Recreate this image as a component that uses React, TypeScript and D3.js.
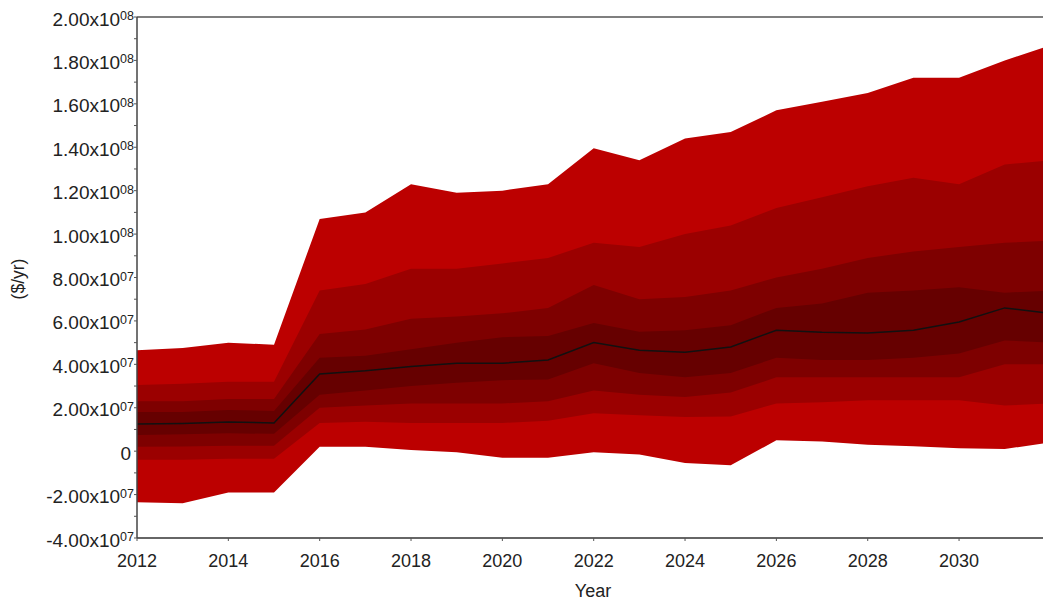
import * as d3 from 'd3';

// Fan chart data, values in $/yr (millions, scaled below)
const years = [2012, 2013, 2014, 2015, 2016, 2017, 2018, 2019, 2020, 2021, 2022, 2023, 2024, 2025, 2026, 2027, 2028, 2029, 2030, 2031, 2032];

const upper1 = [46.5, 47.5, 50, 49, 107, 110, 123, 119, 120, 123, 139.5, 134, 144, 147, 157, 161, 165, 172, 172, 180, 187];
const upper2 = [30.5, 31, 32, 32, 74, 77, 84, 84, 86.5, 89, 96, 94, 100, 104, 112, 117, 122, 126, 123, 132, 134];
const upper3 = [23, 23, 24, 24, 54, 56, 61, 62, 63.5, 66, 76.5, 70, 71, 74, 80, 84, 89, 92, 94, 96, 97];
const upper4 = [18, 18, 19, 18.5, 43, 44, 47, 50, 52.5, 53, 59, 55, 55.7, 58, 66, 68, 73, 74, 75.5, 73, 74];
const median = [12.5, 12.8, 13.4, 13, 35.5, 37, 39, 40.5, 40.5, 42, 50, 46.5, 45.6, 48, 55.7, 54.8, 54.4, 55.7, 59.5, 66, 63.5];
const lower4 = [7.5, 7.8, 8.2, 8, 26, 28, 30, 31.5, 32.7, 33, 40.5, 36, 34, 36, 43, 42, 42, 43, 45, 51, 50];
const lower3 = [2, 2.2, 2.5, 2.5, 20, 21, 22, 22, 22, 23, 28, 26, 25, 27, 34, 34, 34, 34, 34, 40, 40];
const lower2 = [-4, -4, -3.5, -3.5, 13, 13.5, 13, 13, 13, 14, 17.5, 16.5, 15.7, 16, 22, 22.5, 23.5, 23.5, 23.5, 21, 22];
const lower1 = [-23.5, -24, -19, -19, 2, 2, 0.5, -0.5, -3, -3, -0.5, -1.5, -5.5, -6.5, 5, 4.5, 3, 2.3, 1.4, 1, 4];

const yTicks = [-4e7, -2e7, 0, 2e7, 4e7, 6e7, 8e7, 1e8, 1.2e8, 1.4e8, 1.6e8, 1.8e8, 2e8];
const xTicks = [2012, 2014, 2016, 2018, 2020, 2022, 2024, 2026, 2028, 2030];

const bandColors = ['#bc0000', '#9b0000', '#7e0000', '#660000'];

const W = 1043;
const H = 601;
const FONT = '"Liberation Sans", Arial, sans-serif';

function sciLabel(v: number) {
  if (v === 0) return { main: '0', exp: '' };
  const e = Math.floor(Math.log10(Math.abs(v)));
  const m = v / Math.pow(10, e);
  return { main: `${m.toFixed(2)}x10`, exp: String(e).padStart(2, '0') };
}

export default function App() {
  const left = 137;
  const top = 17;
  const bottom = 538;

  const x = d3.scaleLinear().domain([2012, 2032]).range([left, left + 20 * 45.67]);
  const y = d3.scaleLinear().domain([-4e7, 2e8]).range([bottom, top]);

  const bands = [
    [lower1, upper1],
    [lower2, upper2],
    [lower3, upper3],
    [lower4, upper4],
  ];

  const idx = years.map((_, i) => i);

  const line = d3.line<number>()
    .x(i => x(years[i]))
    .y(i => y(median[i] * 1e6));

  const minorTicks = d3.range(-4e7, 2e8 + 1, 1e7);

  return (
    <div style={{ position: 'absolute', left: 0, top: 0 }}>
      <svg width={W} height={H} style={{ display: 'block', fontFamily: FONT }}>
        <defs>
          <clipPath id="plot">
            <rect x={left} y={top} width={W - left} height={bottom - top} />
          </clipPath>
        </defs>

        <g clipPath="url(#plot)">
          {bands.map(([lo, hi], b) => {
            const area = d3.area<number>()
              .x(i => x(years[i]))
              .y0(i => y(lo[i] * 1e6))
              .y1(i => y(hi[i] * 1e6));
            return <path key={b} d={area(idx) || ''} fill={bandColors[b]} />;
          })}
          <path d={line(idx) || ''} fill="none" stroke="#111" strokeWidth={1.5} />
        </g>

        {/* frame */}
        <line x1={left} x2={W} y1={top} y2={top} stroke="#555" strokeWidth={1.5} />
        <line x1={left} x2={W} y1={bottom} y2={bottom} stroke="#666" strokeWidth={2} />
        <line x1={left} x2={left} y1={top} y2={bottom} stroke="#444" strokeWidth={1.5} />

        {/* y ticks */}
        {minorTicks.map(t => (
          <line key={'m' + t} x1={left - 3} x2={left} y1={y(t)} y2={y(t)} stroke="#555" strokeWidth={1} />
        ))}
        {yTicks.map(t => {
          const l = sciLabel(t);
          return (
            <text key={t} x={l.exp ? 134 : 131} y={y(t) + 8.5} textAnchor="end" fontSize={19} fill="#222">
              {l.main}
              {l.exp && <tspan dy={-5.5} fontSize={12.5}>{l.exp}</tspan>}
            </text>
          );
        })}

        {/* x ticks */}
        {xTicks.map(t => (
          <g key={t}>
            <line x1={x(t)} x2={x(t)} y1={bottom} y2={bottom + 3} stroke="#555" strokeWidth={1} />
            <text x={x(t)} y={567} textAnchor="middle" fontSize={18} fill="#222">{t}</text>
          </g>
        ))}

        <text x={593} y={597} textAnchor="middle" fontSize={18} fill="#222">Year</text>
        <text transform={`translate(24,279) rotate(-90)`} textAnchor="middle" fontSize={17.5} fill="#222">($/yr)</text>
      </svg>
    </div>
  );
}
